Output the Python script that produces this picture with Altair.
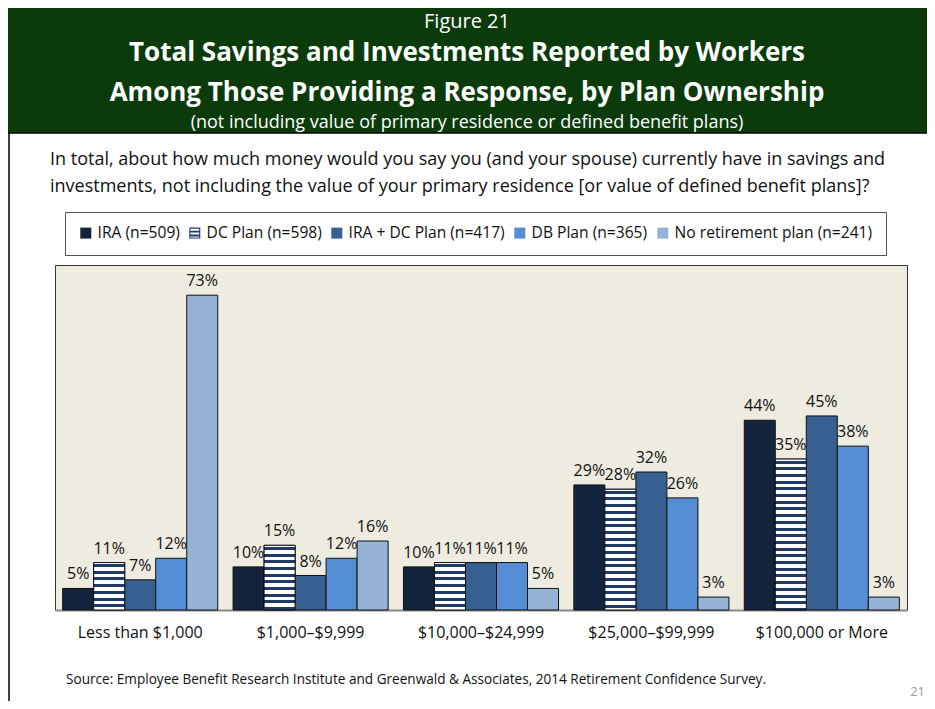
import altair as alt
import pandas as pd

categories = ["Less than $1,000", "$1,000\u2013$9,999", "$10,000\u2013$24,999",
              "$25,000\u2013$99,999", "$100,000 or More"]
series = ["IRA (n=509)", "DC Plan (n=598)", "IRA + DC Plan (n=417)",
          "DB Plan (n=365)", "No retirement plan (n=241)"]
ira = [5, 10, 10, 29, 44]
dc = [11, 15, 11, 28, 35]
ira_dc = [7, 8, 11, 32, 45]
db = [12, 12, 11, 26, 38]
none_plan = [73, 16, 5, 3, 3]
colors = ["#13243e", "#1f3a66", "#375f92", "#558ed5", "#95b3d7"]

# legend swatch shapes: plain squares, and a framed striped square for DC Plan
SQUARE = "M-1,-1H1V1H-1Z"
STRIPED = ("M-1,-1H1V1H-1Z M-0.8,-0.8V0.8H0.8V-0.8Z "
           "M-1,-0.45H1V-0.1H-1Z M-1,0.25H1V0.6H-1Z")
swatches = [SQUARE, STRIPED, SQUARE, SQUARE, SQUARE]

all_vals = [ira, dc, ira_dc, db, none_plan]
rows = []
for s, vals in zip(series, all_vals):
    for c, v in zip(categories, vals):
        rows.append({"cat": c, "series": s, "value": v, "label": f"{v}%"})
df = pd.DataFrame(rows)

W, H = 852, 345
YMAX = 80
FONT = "Open Sans"
NAVY = "#1f3a66"

x_enc = alt.X("cat:N", sort=categories,
              scale=alt.Scale(paddingInner=0.09, paddingOuter=0.045),
              axis=alt.Axis(title=None, labelAngle=0, ticks=False, labelPadding=14,
                            labelFontSize=16, labelFont=FONT, labelColor="#111",
                            domainColor="#8a8a8a", domainWidth=2, grid=False))
xo_enc = alt.XOffset("series:N", sort=series, scale=alt.Scale(paddingInner=0, paddingOuter=0))
y_enc = alt.Y("value:Q", scale=alt.Scale(domain=[0, YMAX], nice=False), axis=None)


def stripe_gradient(h, period=6.7, dark=3.0, first=1.5):
    stops = [{"offset": 0, "color": "#ffffff"}]
    pos = first
    while pos < h:
        s = pos / h
        e = min(pos + dark, h) / h
        stops += [{"offset": s, "color": "#ffffff"}, {"offset": s, "color": NAVY},
                  {"offset": e, "color": NAVY}, {"offset": e, "color": "#ffffff"}]
        pos += period
    stops.append({"offset": 1, "color": "#ffffff"})
    return {"gradient": "linear", "x1": 0, "y1": 0, "x2": 0, "y2": 1, "stops": stops}


legend = alt.Legend(
    title=None, orient="none", legendX=10, legendY=-53,
    direction="horizontal", padding=13, fillColor="#ffffff",
    strokeColor="#555555", symbolSize=121, symbolStrokeWidth=0,
    symbolOpacity=1, labelFont=FONT, labelFontSize=15.6,
    labelColor="#111111", columnPadding=7, labelOffset=4, labelLimit=300)

base = alt.Chart(df)

color_enc = alt.Color("series:N", sort=series,
                      scale=alt.Scale(domain=series, range=colors), legend=legend)

bars = base.mark_bar(stroke="#111111", strokeWidth=1).encode(
    x=x_enc, xOffset=xo_enc, y=y_enc, color=color_enc)

legend_points = base.mark_point(filled=True, opacity=0).encode(
    x=x_enc, xOffset=xo_enc, y=y_enc, color=color_enc,
    shape=alt.Shape("series:N", sort=series,
                    scale=alt.Scale(domain=series, range=swatches), legend=legend))

dc_layers = []
for c, v in zip(categories, dc):
    h = v * H / YMAX
    dc_layers.append(
        base.transform_filter(
            f"datum.series === '{series[1]}' && datum.cat === '{c}'"
        ).mark_bar(stroke="#111111", strokeWidth=1).encode(
            x=x_enc, xOffset=xo_enc, y=y_enc,
            color=alt.value(stripe_gradient(h)))
    )

labels = base.mark_text(font=FONT, fontSize=16, color="#111111", dy=-14,
                        baseline="middle").encode(
    x=x_enc, xOffset=xo_enc, y=y_enc, text="label:N")

one = alt.Chart(pd.DataFrame({"a": [0]}))

header = one.mark_rect(fill="#0b3b0b", stroke="#000000", strokeWidth=1.5).encode(
    x=alt.value(-60), x2=alt.value(877), y=alt.value(-270), y2=alt.value(-132))
side = one.mark_rule(color="#000000", strokeWidth=1.5).encode(
    x=alt.value(-46), y=alt.value(-132), y2=alt.value(440))

def txt(s, x, y, size, weight="normal", color="#111111", align="left", baseline="middle"):
    return one.mark_text(text=s, font=FONT, fontSize=size, fontWeight=weight,
                         color=color, align=align, baseline=baseline).encode(
        x=alt.value(x), y=alt.value(y))

texts = [
    txt("Figure 21", 412, -253, 20, color="#ffffff", align="center", baseline="top"),
    txt("Total Savings and Investments Reported by Workers", 412, -212, 26, "bold", "#ffffff", "center"),
    txt("Among Those Providing a Response, by Plan Ownership", 412, -172, 26, "bold", "#ffffff", "center"),
    txt("(not including value of primary residence or defined benefit plans)", 412, -142, 18, color="#ffffff", align="center"),
    txt("In total, about how much money would you say you (and your spouse) currently have in savings and", -5, -105, 18),
    txt("investments, not including the value of your primary residence [or value of defined benefit plans]?", -5, -78, 18),
    txt("Source:  Employee Benefit Research Institute and Greenwald & Associates, 2014 Retirement Confidence Survey.", 11, 415, 13.6),
    txt("21", 870, 427, 13, color="#9a9a9a", align="right"),
]

chart = alt.layer(header, side, bars, legend_points, *dc_layers, labels, *texts).properties(
    width=W, height=H,
    padding={"left": 47, "top": 257, "right": 20, "bottom": 91},
    autosize=alt.AutoSizeParams(type="none"),
    background="#ffffff",
).configure_view(fill="#eeebe1", stroke="#333333", strokeWidth=1)

chart.save("out.html", embed_options={"renderer": "svg", "actions": False})
